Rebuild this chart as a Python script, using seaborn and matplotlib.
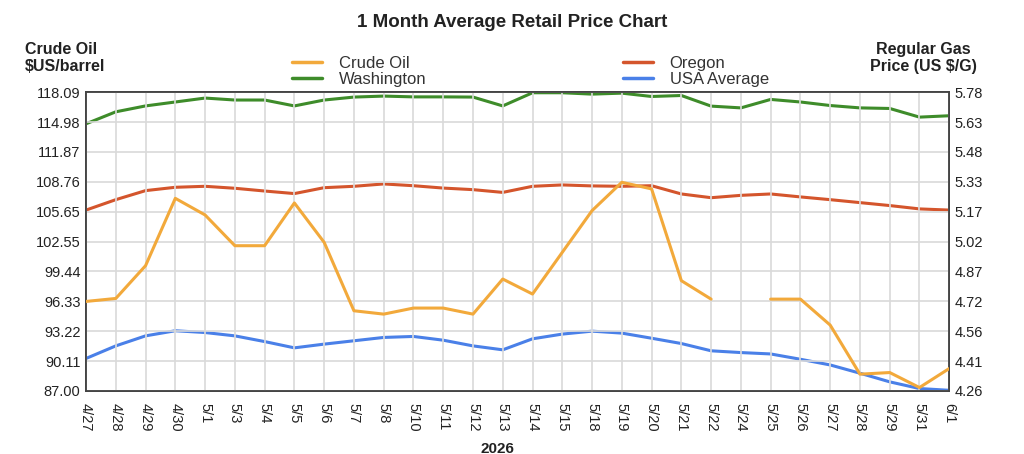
import numpy as np
import pandas as pd
import matplotlib
matplotlib.use('Agg')
import matplotlib.pyplot as plt
import seaborn as sns
from matplotlib.lines import Line2D

dates = ['4/27', '4/28', '4/29', '4/30', '5/1', '5/3', '5/4', '5/5', '5/6', '5/7',
         '5/8', '5/10', '5/11', '5/12', '5/13', '5/14', '5/15', '5/18', '5/19', '5/20',
         '5/21', '5/22', '5/24', '5/25', '5/26', '5/27', '5/28', '5/29', '5/31', '6/1']

crude_oil = [96.31, 96.62, 100.03, 107.04, 105.31, 102.11, 102.11, 106.56, 102.46, 95.34,
             94.99, 95.62, 95.62, 94.99, 98.64, 97.08, 101.42, 105.76, 108.71, 108.02,
             98.47, 96.55, np.nan, 96.55, 96.55, 93.85, 88.74, 88.91, 87.35, 89.33]

washington = [5.619, 5.68, 5.71, 5.73, 5.75, 5.74, 5.74, 5.71, 5.74, 5.755,
              5.76, 5.756, 5.756, 5.755, 5.71, 5.777, 5.777, 5.77, 5.775, 5.758,
              5.763, 5.709, 5.70, 5.743, 5.73, 5.712, 5.70, 5.697, 5.653, 5.66]

oregon = [5.18, 5.233, 5.279, 5.296, 5.301, 5.291, 5.277, 5.264, 5.294, 5.301,
          5.313, 5.304, 5.292, 5.284, 5.27, 5.301, 5.308, 5.303, 5.301, 5.304,
          5.262, 5.243, 5.255, 5.262, 5.247, 5.233, 5.218, 5.203, 5.186, 5.18]

usa_avg = [4.425, 4.489, 4.54, 4.566, 4.557, 4.54, 4.511, 4.479, 4.498, 4.515,
           4.532, 4.537, 4.518, 4.489, 4.469, 4.525, 4.549, 4.564, 4.554, 4.528,
           4.501, 4.464, 4.455, 4.448, 4.421, 4.392, 4.35, 4.306, 4.272, 4.263]

left_ticks = ['87.00', '90.11', '93.22', '96.33', '99.44', '102.55',
              '105.65', '108.76', '111.87', '114.98', '118.09']
right_ticks = ['4.26', '4.41', '4.56', '4.72', '4.87', '5.02',
               '5.17', '5.33', '5.48', '5.63', '5.78']

c_oil = '#f2a93b'
c_wa = '#3e8c2a'
c_or = '#d4552c'
c_us = '#4a80e8'

df = pd.DataFrame({'x': range(len(dates)), 'crude': crude_oil, 'wa': washington,
                   'or': oregon, 'us': usa_avg})
# crude oil has a gap at 5/24, draw it as two pieces
df['seg'] = np.cumsum(df['crude'].isna())
oil = df.dropna(subset=['crude'])

sns.set_style('white')
plt.rcParams['font.family'] = ['Liberation Sans', 'DejaVu Sans']

fig = plt.figure(figsize=(10.24, 4.54), dpi=100)
ax = fig.add_axes([0.084, 0.139, 0.843, 0.658])
ax2 = ax.twinx()

lw = 2.2
sns.lineplot(data=oil, x='x', y='crude', units='seg', estimator=None, color=c_oil,
             lw=lw, ax=ax, zorder=3)
sns.lineplot(data=df, x='x', y='wa', color=c_wa, lw=lw, ax=ax2)
sns.lineplot(data=df, x='x', y='or', color=c_or, lw=lw, ax=ax2)
sns.lineplot(data=df, x='x', y='us', color=c_us, lw=lw, ax=ax2)

ax.set_xlim(0, len(dates) - 1)
ax.set_ylim(87.0, 118.09)
ax2.set_ylim(4.26, 5.78)

ax.set_yticks(np.linspace(87.0, 118.09, len(left_ticks)))
ax.set_yticklabels(left_ticks)
ax2.set_yticks(np.linspace(4.26, 5.78, len(right_ticks)))
ax2.set_yticklabels(right_ticks)
ax.set_xticks(range(len(dates)))
ax.set_xticklabels(dates, rotation=270)

ax.grid(True, color='#d9d9d9', lw=1.2)
ax.set_axisbelow(True)
ax2.grid(False)
ax.set_zorder(ax2.get_zorder() + 1)
ax.patch.set_visible(False)

for a in (ax, ax2):
    for s in a.spines.values():
        s.set_color('#444444')
        s.set_linewidth(1.3)
    a.tick_params(length=0, labelsize=10.5, colors='#222222', pad=4)
    a.set_xlabel('')
    a.set_ylabel('')
ax.tick_params(axis='x', pad=9)

fig.text(0.5, 0.95, '1 Month Average Retail Price Chart', ha='center', va='center',
         fontsize=13.5, fontweight='bold', color='#222222')
fig.text(0.024, 0.872, 'Crude Oil\n$US/barrel', ha='left', va='center',
         fontsize=11.5, fontweight='bold', color='#222222', linespacing=1.15)
fig.text(0.902, 0.872, 'Regular Gas\nPrice (US $/G)', ha='center', va='center',
         fontsize=11.5, fontweight='bold', color='#222222', linespacing=1.15)
fig.text(0.486, 0.012, '2026', ha='center', va='center',
         fontsize=11, fontweight='bold', color='#222222')

handles = [Line2D([], [], color=c_oil, lw=2.5), Line2D([], [], color=c_wa, lw=2.5),
           Line2D([], [], color=c_or, lw=2.5), Line2D([], [], color=c_us, lw=2.5)]
labels = ['Crude Oil', 'Washington', 'Oregon', 'USA Average']
fig.legend(handles, labels, ncol=2, loc='center', bbox_to_anchor=(0.518, 0.843),
           frameon=False, fontsize=12, columnspacing=11.8, handlelength=1.8,
           handletextpad=1.0, labelspacing=0.05, labelcolor='#333333')

fig.savefig('out.png', dpi=100)
